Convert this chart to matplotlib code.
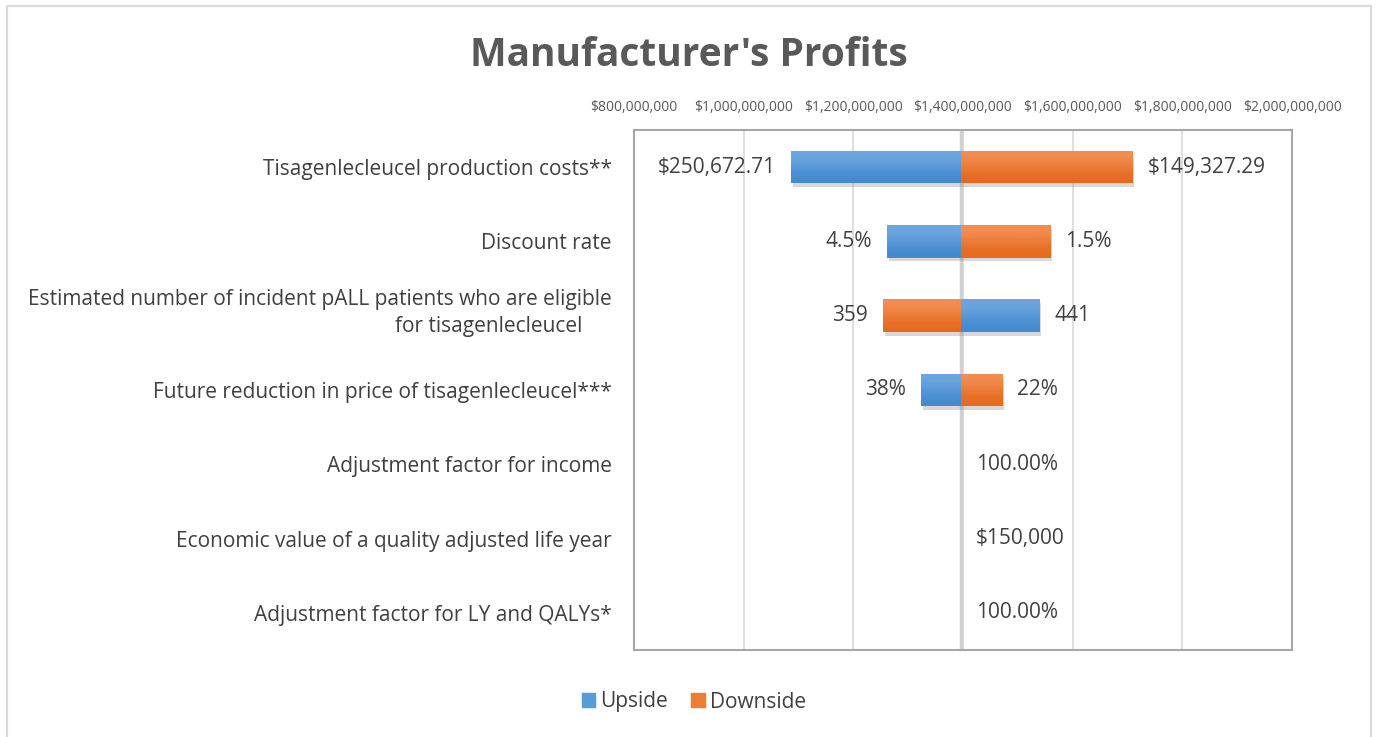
import matplotlib
matplotlib.use('Agg')
import matplotlib.pyplot as plt
import matplotlib.patheffects as pe
from matplotlib.patches import Rectangle, Patch
from matplotlib.colors import LinearSegmentedColormap
from matplotlib.ticker import FuncFormatter

plt.rcParams['font.family'] = ['Open Sans', 'DejaVu Sans']

# data (profits in $)
base = 1396000000
params = ['Tisagenlecleucel production costs**',
          'Discount rate',
          'Estimated number of incident pALL patients who are eligible\nfor tisagenlecleucel',
          'Future reduction in price of tisagenlecleucel***',
          'Adjustment factor for income',
          'Economic value of a quality adjusted life year',
          'Adjustment factor for LY and QALYs*']
upside = [1086300000, 1261400000, 1538600000, 1323400000, base, base, base]
downside = [1708300000, 1558700000, 1254100000, 1471200000, base, base, base]
upside_labels = ['$250,672.71', '4.5%', '441', '38%', '', '', '']
downside_labels = ['$149,327.29', '1.5%', '359', '22%', '100.00%', '$150,000', '100.00%']
xticks = [800000000, 1000000000, 1200000000, 1400000000, 1600000000, 1800000000, 2000000000]

blue = '#5B9BD5'
orange = '#ED7D31'
txt = '#404040'
grads = {blue: LinearSegmentedColormap.from_list('b', ['#6EA8DF', '#4389CF']),
         orange: LinearSegmentedColormap.from_list('o', ['#F38F55', '#E5691C'])}

fig = plt.figure(figsize=(13.78, 7.37), dpi=100)
W, H = 1378, 737
ax = fig.add_axes([634 / W, 1 - 650 / H, (1292 - 634) / W, (650 - 130) / H])

shadow = [pe.SimplePatchShadow(offset=(1.5, -2.5), shadow_rgbFace='#909090', alpha=0.35), pe.Normal()]
ypos = list(range(len(params)))
h = 0.44

for y, u, d, ul, dl in zip(ypos, upside, downside, upside_labels, downside_labels):
    for val, col, lab in [(u, blue, ul), (d, orange, dl)]:
        b = ax.barh(y, val - base, left=base, height=h, color=col, zorder=3)
        for p in b:
            p.set_path_effects(shadow)
            if val != base:
                im = ax.imshow([[0], [1]], cmap=grads[col], aspect='auto', interpolation='bicubic',
                               extent=[min(val, base), max(val, base), y + h / 2, y - h / 2], zorder=3.5)
                im.set_clip_path(p)
        if lab:
            if val < base:
                ax.annotate(lab, (val, y), xytext=(-11, 0), textcoords='offset points',
                            ha='right', va='center', fontsize=15, color=txt, zorder=4)
            else:
                ax.annotate(lab, (val, y), xytext=(11, 0), textcoords='offset points',
                            ha='left', va='center', fontsize=15, color=txt, zorder=4)

ax.axvline(base, color='#D0D0D0', lw=2.5, zorder=2)
ax.set_xlim(800000000, 2000000000)
ax.set_ylim(len(params) - 0.5, -0.5)
ax.set_xticks(xticks)
ax.xaxis.set_major_formatter(FuncFormatter(lambda v, p: '${:,.0f}'.format(v)))
ax.xaxis.tick_top()
ax.tick_params(axis='x', length=0, pad=11, labelsize=10, labelcolor='#595959')
ax.grid(axis='x', color='#D9D9D9', lw=1.2, zorder=1)
ax.set_axisbelow(True)
ax.set_yticks(ypos)
# wrapped category names are drawn by hand (Excel-like uneven wrap)
ax.set_yticklabels(['' if '\n' in p else p for p in params], fontsize=15, color=txt)
ax.tick_params(axis='y', length=0, pad=16)
for y, p in zip(ypos, params):
    if '\n' in p:
        first, second = p.split('\n')
        ax.annotate(first, (0, y), xycoords=ax.get_yaxis_transform(), xytext=(-16, 12),
                    textcoords='offset points', ha='right', va='center', fontsize=15, color=txt)
        ax.annotate(second, (0, y), xycoords=ax.get_yaxis_transform(), xytext=(-37, -7.5),
                    textcoords='offset points', ha='right', va='center', fontsize=15, color=txt)
for s in ax.spines.values():
    s.set_color('#A6A6A6')
    s.set_linewidth(1.5)

fig.text(0.5, 1 - 56 / H, "Manufacturer's Profits", ha='center', va='center',
         fontsize=28, fontweight='bold', color='#595959')

handles = [Patch(color=blue, label='Upside'), Patch(color=orange, label='Downside')]
fig.legend(handles=handles, loc='center', bbox_to_anchor=(694 / W, 1 - 702 / H), ncol=2,
           frameon=False, fontsize=15, handlelength=0.65, handleheight=0.65,
           handletextpad=0.25, columnspacing=1.1, labelcolor=txt)

fig.patches.append(Rectangle((7 / W, -0.05), (1371 - 7) / W, 1.05 - 6 / H, transform=fig.transFigure,
                             fill=False, edgecolor='#D9D9D9', lw=1.5))

fig.savefig('out.png', dpi=100)
